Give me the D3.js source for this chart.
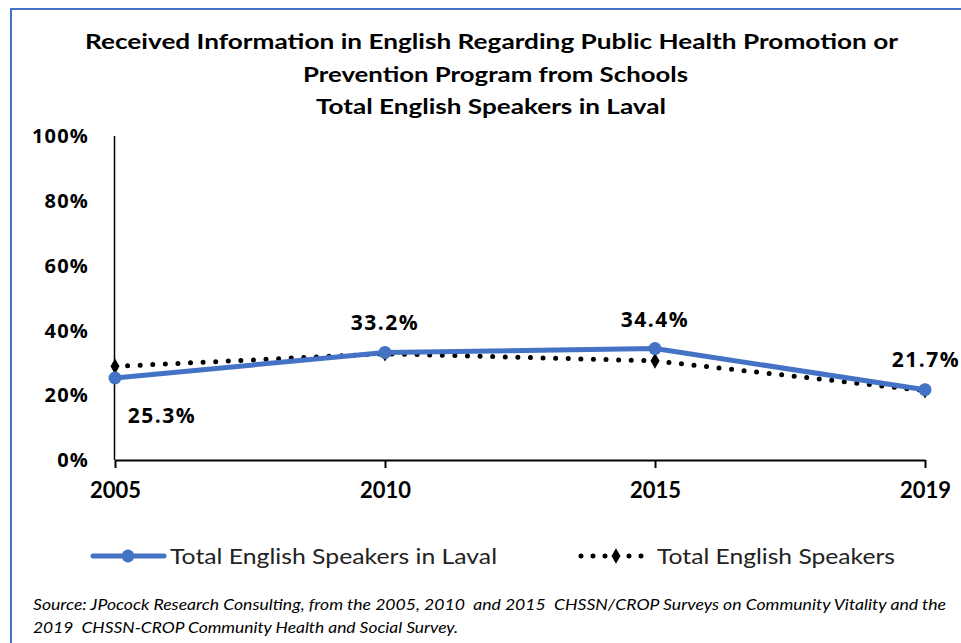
<!DOCTYPE html>
<html>
<head>
<meta charset="utf-8">
<script src="https://cdn.jsdelivr.net/npm/d3@7"></script>
<style>
  html, body { margin: 0; padding: 0; background: #fff; }
  svg { display: block; }
</style>
</head>
<body>
<svg id="chart" width="961" height="643"></svg>
<script>
// ---- data ----
const years = ["2005", "2010", "2015", "2019"];
const lavalValues = [25.3, 33.2, 34.4, 21.7];
const totalValues = [28.9, 32.8, 30.6, 21.4];
const yTicks = [0, 20, 40, 60, 80, 100];
const seriesNames = ["Total English Speakers in Laval", "Total English Speakers"];
const titleLines = [
  "Received Information in English Regarding Public Health Promotion or",
  "Prevention Program from Schools",
  "Total English Speakers in Laval"
];
const sourceLines = [
  "Source: JPocock Research Consulting, from the 2005, 2010  and 2015  CHSSN/CROP Surveys on Community Vitality and the",
  "2019  CHSSN-CROP Community Health and Social Survey."
];

const svg = d3.select("#chart");
const blue = "#4472C4";

// frame
svg.append("rect").attr("x", 11).attr("y", 9).attr("width", 980).attr("height", 660)
  .attr("fill", "none").attr("stroke", blue).attr("stroke-width", 2);

// title
const titleY = [49, 82, 114];
const titleW = [813, 385, 350];
const titleX = [491.5, 495.5, 491];
titleLines.forEach((t, i) => {
  svg.append("text").attr("x", titleX[i]).attr("y", titleY[i])
    .attr("text-anchor", "middle")
    .attr("font-family", "Lato, 'Open Sans', sans-serif")
    .attr("font-weight", "bold").attr("font-size", 21.5)
    .attr("fill", "#000")
    .attr("textLength", titleW[i]).attr("lengthAdjust", "spacingAndGlyphs")
    .text(t);
});

// scales
const x = d3.scalePoint().domain(years).range([115, 925]);
const y = d3.scaleLinear().domain([0, 100]).range([460, 136]);

// y axis line
svg.append("line").attr("x1", 114.5).attr("x2", 114.5).attr("y1", y(100)).attr("y2", y(0))
  .attr("stroke", "#000").attr("stroke-width", 1.5);

// y tick labels
svg.append("g").selectAll("text").data(yTicks).join("text")
  .attr("x", 89).attr("y", d => y(d)).attr("dy", "0.36em")
  .attr("text-anchor", "end")
  .attr("font-family", "'Open Sans', sans-serif").attr("font-weight", "bold")
  .attr("font-size", 20).attr("letter-spacing", 1.2).attr("fill", "#000")
  .text(d => d + "%");

// x axis
const xAxis = d3.axisBottom(x).tickSize(8).tickSizeOuter(0).tickPadding(14);
const gx = svg.append("g").attr("transform", `translate(0,${y(0)})`).call(xAxis);
gx.select(".domain").attr("stroke", "#000").attr("stroke-width", 2);
gx.selectAll(".tick line").attr("stroke", "#000").attr("stroke-width", 2);
gx.selectAll(".tick text")
  .attr("font-family", "Lato, sans-serif").attr("font-weight", "bold")
  .attr("font-size", 22).attr("fill", "#000");

// series
const lavalData = years.map((yr, i) => ({ yr, v: lavalValues[i] }));
const totalData = years.map((yr, i) => ({ yr, v: totalValues[i] }));
const line = d3.line().x(d => x(d.yr)).y(d => y(d.v));

// dotted series
svg.append("path").datum(totalData).attr("d", line)
  .attr("fill", "none").attr("stroke", "#000").attr("stroke-width", 5)
  .attr("stroke-linecap", "round").attr("stroke-dasharray", "0 12.6");
const diamond = d3.symbol().type(d3.symbolDiamond).size(70);
svg.append("g").selectAll("path").data(totalData).join("path")
  .attr("transform", d => `translate(${x(d.yr)},${y(d.v)})`)
  .attr("d", diamond).attr("fill", "#000");

// blue series
svg.append("path").datum(lavalData).attr("d", line)
  .attr("fill", "none").attr("stroke", blue).attr("stroke-width", 5)
  .attr("stroke-linejoin", "round").attr("stroke-linecap", "round");
svg.append("g").selectAll("circle").data(lavalData).join("circle")
  .attr("cx", d => x(d.yr)).attr("cy", d => y(d.v)).attr("r", 6.5)
  .attr("fill", blue);

// data labels
const labelOffsets = [[47, 37], [0, -30], [0, -29], [1, -30]];
svg.append("g").selectAll("text").data(lavalData).join("text")
  .attr("x", (d, i) => x(d.yr) + labelOffsets[i][0])
  .attr("y", (d, i) => y(d.v) + labelOffsets[i][1])
  .attr("dy", "0.36em").attr("text-anchor", "middle")
  .attr("font-family", "'Open Sans', sans-serif").attr("font-weight", "bold")
  .attr("font-size", 21).attr("letter-spacing", 1.5).attr("fill", "#000")
  .text(d => d.v.toFixed(1) + "%");

// legend
const legY = 556;
const lg = svg.append("g");
lg.append("line").attr("x1", 93).attr("x2", 164).attr("y1", legY).attr("y2", legY)
  .attr("stroke", blue).attr("stroke-width", 5).attr("stroke-linecap", "round");
lg.append("circle").attr("cx", 128).attr("cy", legY).attr("r", 6.5).attr("fill", blue);
lg.append("text").attr("x", 170).attr("y", legY).attr("dy", "0.36em")
  .attr("font-family", "Lato, sans-serif").attr("font-size", 21.5).attr("fill", "#222")
  .attr("textLength", 327).attr("lengthAdjust", "spacingAndGlyphs")
  .text(seriesNames[0]);
lg.append("line").attr("x1", 581).attr("x2", 646).attr("y1", legY).attr("y2", legY)
  .attr("stroke", "#000").attr("stroke-width", 5).attr("stroke-linecap", "round")
  .attr("stroke-dasharray", "0 12");
lg.append("path").attr("transform", `translate(616,${legY})`).attr("d", diamond).attr("fill", "#000");
lg.append("text").attr("x", 657).attr("y", legY).attr("dy", "0.36em")
  .attr("font-family", "Lato, sans-serif").attr("font-size", 21.5).attr("fill", "#222")
  .attr("textLength", 238).attr("lengthAdjust", "spacingAndGlyphs")
  .text(seriesNames[1]);

// source
const srcY = [610, 633];
const srcW = [913, 425];
sourceLines.forEach((t, i) => {
  svg.append("text").attr("x", 33).attr("y", srcY[i])
    .attr("font-family", "Lato, sans-serif").attr("font-style", "italic")
    .attr("font-size", 14.5).attr("fill", "#000")
    .attr("textLength", srcW[i]).attr("lengthAdjust", "spacingAndGlyphs")
    .style("white-space", "pre")
    .text(t);
});
</script>
</body>
</html>
